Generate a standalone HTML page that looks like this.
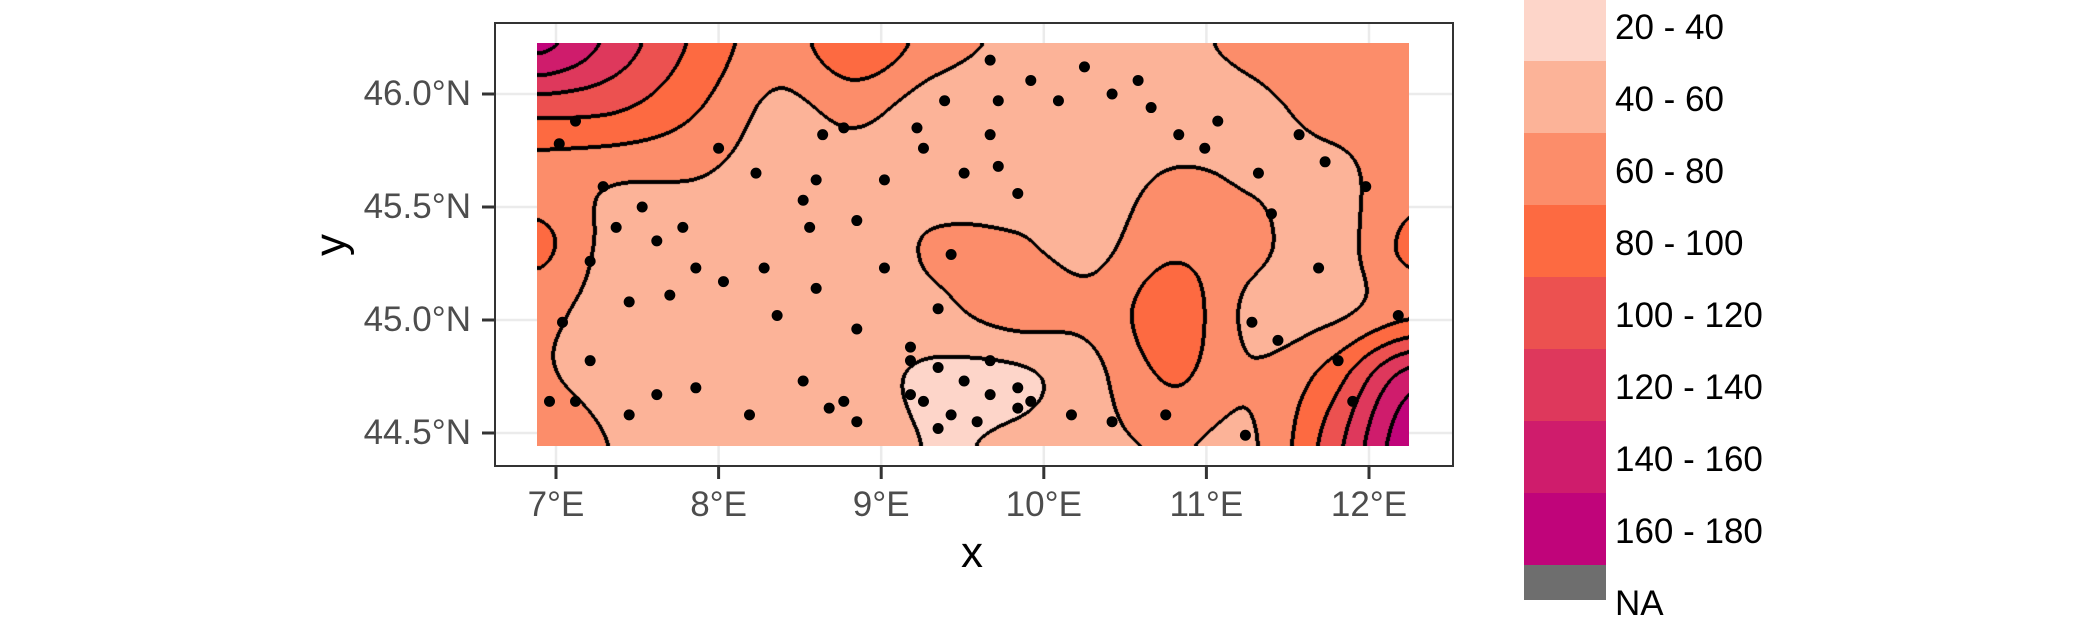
<!DOCTYPE html>
<html><head><meta charset="utf-8">
<style>
body{margin:0;width:2100px;height:600px;background:#fff;overflow:hidden;font-family:"Liberation Sans",sans-serif}
#root{position:relative;width:2100px;height:600px}
.t{position:absolute;color:#4D4D4D;font-size:35px;line-height:40px;white-space:nowrap}
.lg{position:absolute;font-size:35px;line-height:40px;color:#000;white-space:nowrap}
</style></head><body>
<div id="root">
<svg id="svg" width="2100" height="600" style="position:absolute;left:0;top:0"></svg>
<canvas id="cv" width="872" height="403" style="position:absolute;left:537px;top:43px"></canvas>
<svg id="pts" width="2100" height="600" style="position:absolute;left:0;top:0"></svg>
<div id="labels"></div>
</div>
<script>
const lonGrid=[6.9,7.39,7.87,8.36,8.85,9.33,9.82,10.31,10.79,11.28,11.76,12.25];
const latGrid=[46.22,45.93,45.63,45.34,45.04,44.75,44.45];
const row0=[165,130,95,70,95,70,55,50,55,65,75,70];
const row1=[105,100,80,55,65,48,45,45,50,55,65,65];
const row2=[70,62,60,50,50,50,50,50,62,58,55,70];
const row3=[85,50,50,50,50,62,62,55,75,65,50,85];
const row4=[65,50,48,48,50,55,68,65,92,55,55,75];
const row5=[62,52,50,48,48,35,35,55,82,62,90,150];
const row6=[75,58,52,50,55,38,45,55,62,58,110,175];
const gridVals=[row0,row1,row2,row3,row4,row5,row6];
const bandLabels=["20 - 40","40 - 60","60 - 80","80 - 100","100 - 120","120 - 140","140 - 160","160 - 180","NA"];
const bandColors=["#FDD5C9","#FCB398","#FC8D6A","#FD6A41","#EC5150","#DE385C","#CF1C6C","#C0047A","#6E6E6E"];
const xTicks=[7,8,9,10,11,12];
const xTickLabels=["7°E","8°E","9°E","10°E","11°E","12°E"];
const yTicks=[46.0,45.5,45.0,44.5];
const yTickLabels=["46.0°N","45.5°N","45.0°N","44.5°N"];
const ptLon=[7.12,7.02,8.0,8.23,8.52,8.56,8.28,8.03,8.36,8.6,8.85,9.18,9.35,9.43,9.02,8.85,9.02,9.26,9.51,9.72,9.84,9.67,9.72,10.09,10.42,10.66,10.83,11.07,10.99,10.58,10.25,9.92,9.67,11.32,11.57,11.73,11.98,11.4,11.28,11.44,11.69,12.18,11.81,11.9,11.24,10.75,10.42,10.17,9.92,8.52,8.19,7.86,7.62,7.45,7.12,7.21,7.04,6.96,7.45,7.7,7.86,7.53,7.37,7.78,7.21,8.6,8.64,8.77,9.22,9.39,9.18,9.35,9.51,9.67,9.84,9.26,9.43,9.59,9.35,9.18,9.67,9.84,8.77,8.85,8.68,7.29,7.62];
const ptLat=[45.88,45.78,45.76,45.65,45.53,45.41,45.23,45.17,45.02,45.14,44.96,44.88,45.05,45.29,45.23,45.44,45.62,45.76,45.65,45.68,45.56,45.82,45.97,45.97,46.0,45.94,45.82,45.88,45.76,46.06,46.12,46.06,46.15,45.65,45.82,45.7,45.59,45.47,44.99,44.91,45.23,45.02,44.82,44.64,44.49,44.58,44.55,44.58,44.64,44.73,44.58,44.7,44.67,44.58,44.64,44.82,44.99,44.64,45.08,45.11,45.23,45.5,45.41,45.41,45.26,45.62,45.82,45.85,45.85,45.97,44.82,44.79,44.73,44.67,44.7,44.64,44.58,44.55,44.52,44.67,44.82,44.61,44.64,44.55,44.61,45.59,45.35];

const X=lon=>556+(lon-7)*162.6;
const Y=lat=>94+(46-lat)*226;
const NS='http://www.w3.org/2000/svg';
const svg=document.getElementById('svg');
function mk(tag,attrs,parent){const e=document.createElementNS(NS,tag);for(const k in attrs)e.setAttribute(k,attrs[k]);(parent||svg).appendChild(e);return e;}
xTicks.forEach(v=>{const l=mk('line',{x1:X(v),x2:X(v),y1:23,y2:466,stroke:'#EBEBEB','stroke-width':2.5});

});
yTicks.forEach(v=>{const l=mk('line',{x1:495,x2:1453,y1:Y(v),y2:Y(v),stroke:'#EBEBEB','stroke-width':2.5});

});
const fr=mk('rect',{x:495,y:23,width:958,height:443,fill:'none',stroke:'#333','stroke-width':2});


xTicks.forEach(v=>{const l=mk('line',{x1:X(v),x2:X(v),y1:466,y2:479,stroke:'#333','stroke-width':3});

});
yTicks.forEach(v=>{const l=mk('line',{x1:482,x2:495,y1:Y(v),y2:Y(v),stroke:'#333','stroke-width':3});

});
bandColors.forEach((c,i)=>{const r=mk('rect',{x:1524,y:-11+i*72,width:82,height:72,fill:c});

});
const lab=document.getElementById('labels');
function addDiv(cls,txt,style,name){const d=document.createElement('div');d.className=cls;d.textContent=txt;d.setAttribute('style',style);


lab.appendChild(d);}
bandLabels.forEach((t,i)=>addDiv('lg',t,`left:1615px;top:${-11+i*72+36-17}px;`,'legend-label'));
xTickLabels.forEach((t,i)=>addDiv('t',t,`left:${X(xTicks[i])-80}px;width:160px;text-align:center;top:485px;`,'x-tick-label'));
yTickLabels.forEach((t,i)=>addDiv('t',t,`left:271px;width:200px;text-align:right;top:${Y(yTicks[i])-20}px;`,'y-tick-label'));
addDiv('t','x','left:942px;width:60px;text-align:center;top:528px;font-size:44px;line-height:50px;color:#000','x-axis-title');
addDiv('t','y','left:301px;width:60px;text-align:center;top:220px;font-size:44px;line-height:50px;color:#000;transform:rotate(-90deg)','y-axis-title');
function cr(p0,p1,p2,p3,t){return 0.5*((2*p1)+(-p0+p2)*t+(2*p0-5*p1+4*p2-p3)*t*t+(-p0+3*p1-3*p2+p3)*t*t*t);}
function val(lon,lat){
 const nc=lonGrid.length,nr=latGrid.length;
 let fx=(lon-lonGrid[0])/(lonGrid[nc-1]-lonGrid[0])*(nc-1);
 let fy=(latGrid[0]-lat)/(latGrid[0]-latGrid[nr-1])*(nr-1);
 fx=Math.max(0,Math.min(nc-1.0001,fx));fy=Math.max(0,Math.min(nr-1.0001,fy));
 const ix=Math.floor(fx),iy=Math.floor(fy),tx=fx-ix,ty=fy-iy;
 const g=(r,c)=>gridVals[Math.max(0,Math.min(nr-1,r))][Math.max(0,Math.min(nc-1,c))];
 const rows=[];
 for(let j=-1;j<3;j++)rows.push(cr(g(iy+j,ix-1),g(iy+j,ix),g(iy+j,ix+1),g(iy+j,ix+2),tx));
 return cr(rows[0],rows[1],rows[2],rows[3],ty);
}
const cv=document.getElementById('cv'),ctx=cv.getContext('2d');
const W=872,H=403,band=new Int8Array(W*H);
for(let y=0;y<H;y++)for(let x=0;x<W;x++){
 const lon=7+(537+x-556)/162.6,lat=46-(43+y-94)/226;
 let v=val(lon,lat);let b=Math.floor((v-20)/20);b=Math.max(0,Math.min(7,b));band[y*W+x]=b;}
const img=ctx.createImageData(W,H);
const rgb=bandColors.map(h=>[parseInt(h.slice(1,3),16),parseInt(h.slice(3,5),16),parseInt(h.slice(5,7),16)]);
for(let y=0;y<H;y++)for(let x=0;x<W;x++){
 const b=band[y*W+x];let edge=false;
 for(let d=1;d<=2&&!edge;d++){
  if(x+d<W&&band[y*W+x+d]!==b)edge=true;
  if(y+d<H&&band[(y+d)*W+x]!==b)edge=true;
  if(x-d>=0&&band[y*W+x-d]!==b)edge=true;
  if(y-d>=0&&band[(y-d)*W+x]!==b)edge=true;}
 const c=edge?[0,0,0]:rgb[b];const i=(y*W+x)*4;
 img.data[i]=c[0];img.data[i+1]=c[1];img.data[i+2]=c[2];img.data[i+3]=255;}
ctx.putImageData(img,0,0);
const pts=document.getElementById('pts');
ptLon.forEach((lo,i)=>{const c=mk('circle',{cx:X(lo),cy:Y(ptLat[i]),r:5.5,fill:'#000'},pts);

});
</script>
</body></html>
